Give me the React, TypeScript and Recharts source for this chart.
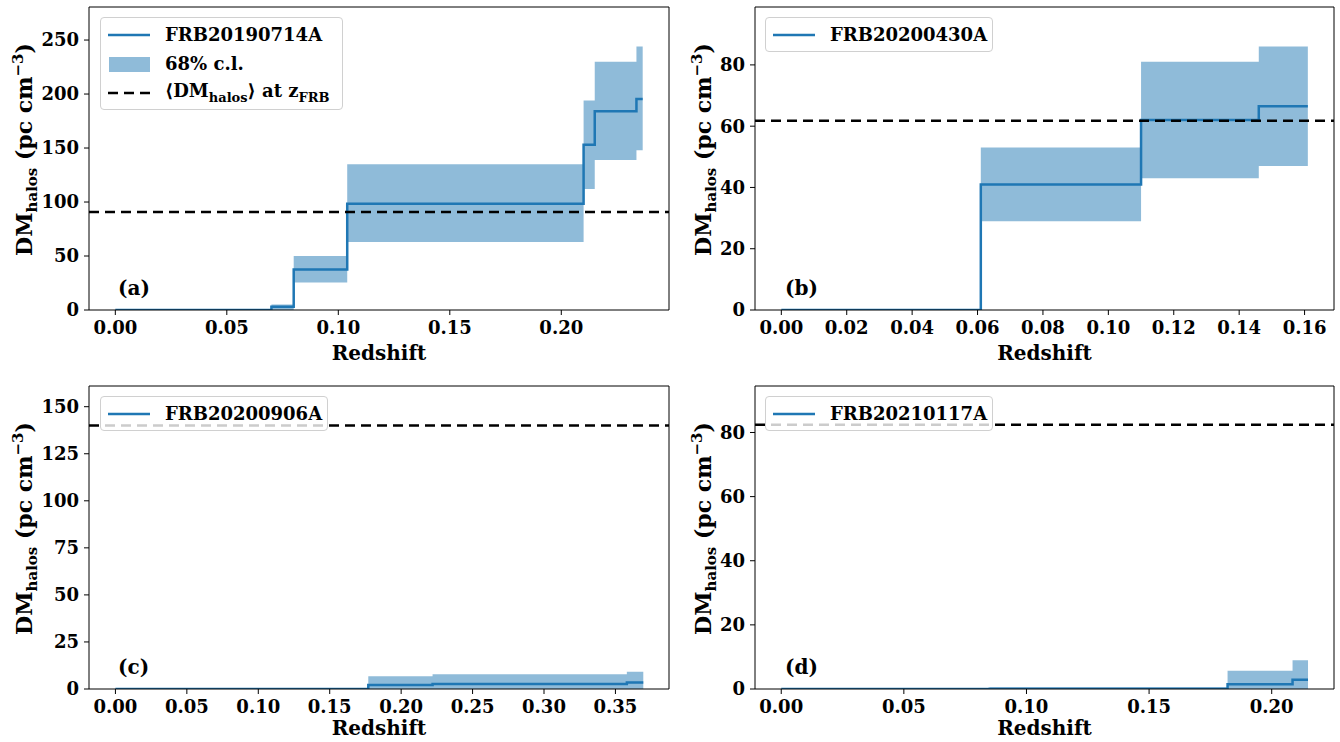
import React from 'react';
import { ComposedChart, Area, Line, XAxis, YAxis, ReferenceLine } from 'recharts';

const FONT = '"DejaVu Serif", "Liberation Serif", serif';
const BLUE = '#1f77b4';

// (a) FRB20190714A : bin edges in redshift, median and 68% band per bin
const zA = [0, 0.07, 0.08, 0.104, 0.21, 0.215, 0.2337, 0.2365];
const dmA = [0, 3, 37.5, 98.5, 153, 184, 195.5];
const loA = [0, 0, 25.5, 63, 112, 139, 148];
const hiA = [0, 5, 50, 135, 194, 230, 244];
const meanA = 90.8;
const xTicksA = [0, 0.05, 0.1, 0.15, 0.2];
const yTicksA = [0, 50, 100, 150, 200, 250];

// (b) FRB20200430A
const zB = [0, 0.061, 0.11, 0.146, 0.161];
const dmB = [0, 41, 62, 66.5];
const loB = [0, 29, 43, 47];
const hiB = [0, 53, 81, 86];
const meanB = 61.8;
const xTicksB = [0, 0.02, 0.04, 0.06, 0.08, 0.1, 0.12, 0.14, 0.16];
const yTicksB = [0, 20, 40, 60, 80];

// (c) FRB20200906A
const zC = [0, 0.177, 0.222, 0.358, 0.3695];
const dmC = [0, 2.1, 2.7, 3.4];
const loC = [0, 0, 0, 0];
const hiC = [0, 6.8, 7.8, 9.2];
const meanC = 140;
const xTicksC = [0, 0.05, 0.1, 0.15, 0.2, 0.25, 0.3, 0.35];
const yTicksC = [0, 25, 50, 75, 100, 125, 150];

// (d) FRB20210117A
const zD = [0, 0.085, 0.182, 0.2085, 0.2148];
const dmD = [0, 0.1, 1.5, 2.9];
const loD = [0, 0, 0, 0];
const hiD = [0, 0.5, 5.7, 9.0];
const meanD = 82.4;
const xTicksD = [0, 0.05, 0.1, 0.15, 0.2];
const yTicksD = [0, 20, 40, 60, 80];

const buildRows = (z: number[], dm: number[], lo: number[], hi: number[]) =>
  z.map((x, i) => {
    const j = Math.min(i, dm.length - 1);
    return { z: x, dm: dm[j], band: [lo[j], hi[j]] };
  });

const panels = [
  { key: 'a', name: 'FRB20190714A', left: 0, top: 0, yw: 89, mt: 7, mr: 1, xh: 61, labelX: 32,
    rows: buildRows(zA, dmA, loA, hiA), mean: meanA, xTicks: xTicksA, yTicks: yTicksA,
    xDomain: [-0.0118, 0.2483], yDomain: [0, 280.6], full: true,
    legend: { left: 100, top: 17, width: 243 } },
  { key: 'b', name: 'FRB20200430A', left: 670, top: 0, yw: 85, mt: 7, mr: 6, xh: 61, labelX: 41,
    rows: buildRows(zB, dmB, loB, hiB), mean: meanB, xTicks: xTicksB, yTicks: yTicksB,
    xDomain: [-0.00805, 0.169], yDomain: [0, 98.9], full: false,
    legend: { left: 95, top: 17, width: 228 } },
  { key: 'c', name: 'FRB20200906A', left: 0, top: 371, yw: 89, mt: 15, mr: 1, xh: 53, labelX: 32,
    rows: buildRows(zC, dmC, loC, hiC), mean: meanC, xTicks: xTicksC, yTicks: yTicksC,
    xDomain: [-0.0185, 0.3875], yDomain: [0, 161], full: false,
    legend: { left: 100, top: 25, width: 228 } },
  { key: 'd', name: 'FRB20210117A', left: 670, top: 371, yw: 85, mt: 15, mr: 6, xh: 53, labelX: 41,
    rows: buildRows(zD, dmD, loD, hiD), mean: meanD, xTicks: xTicksD, yTicks: yTicksD,
    xDomain: [-0.0107, 0.2254], yDomain: [0, 94.5], full: false,
    legend: { left: 95, top: 25, width: 228 } },
];

const tickStyle = { fontFamily: FONT, fontWeight: 'bold', fontSize: 18, fill: '#000' };
const textStyle: React.CSSProperties = { fontFamily: FONT, fontWeight: 'bold', color: '#000' };

const LegendRow = ({ sample, children }: any) => (
  <div style={{ display: 'flex', alignItems: 'center', height: 29 }}>
    <svg width={57} height={20} style={{ marginLeft: 7, flex: 'none' }}>{sample}</svg>
    <span style={{ ...textStyle, fontSize: 18, whiteSpace: 'nowrap' }}>{children}</span>
  </div>
);

const lineSample = <line x1={0} x2={42} y1={10} y2={10} stroke={BLUE} strokeWidth={2.5} />;
const bandSample = <rect x={1} y={3} width={41} height={15} fill={BLUE} fillOpacity={0.5} />;
const dashSample = <line x1={0} x2={42} y1={10} y2={10} stroke="#000" strokeWidth={2.5} strokeDasharray="10 6" />;

function Panel({ p }: any) {
  const plotW = 670 - p.yw - p.mr;
  const plotH = 371 - p.mt - p.xh;
  const xLabel = () => (
    <text x={p.yw + plotW / 2} y={371 - p.xh + Math.min(43, p.xh - 14)} textAnchor="middle"
      dominantBaseline="central" style={{ fontFamily: FONT, fontWeight: 'bold', fontSize: 20 }}
      fill="#000">Redshift</text>
  );
  const cy = p.mt + plotH / 2 - 9;
  const yLabel = () => (
    <text x={p.labelX} y={cy} transform={`rotate(-90, ${p.labelX}, ${cy})`} textAnchor="middle"
      style={{ fontFamily: FONT, fontWeight: 'bold', fontSize: 22 }} fill="#000">
      DM<tspan fontSize={15} dy={5}>halos</tspan>
      <tspan dy={-5}> (pc cm</tspan>
      <tspan fontSize={15} dy={-9}>−3</tspan>
      <tspan dy={9}>)</tspan>
    </text>
  );
  return (
    <div style={{ position: 'absolute', left: p.left, top: p.top, width: 670, height: 371 }}>
      <ComposedChart width={670} height={371} data={p.rows}
        margin={{ top: p.mt, right: p.mr, bottom: 0, left: 0 }}>
        <XAxis dataKey="z" type="number" domain={p.xDomain} ticks={p.xTicks} allowDataOverflow
          tickFormatter={(v: number) => v.toFixed(2)} height={p.xh} tickSize={5} tickMargin={6}
          tick={tickStyle} stroke="#000" tickLine={{ stroke: '#000' }} interval={0}
          label={{ content: xLabel }} />
        <YAxis type="number" domain={p.yDomain} ticks={p.yTicks} allowDataOverflow width={p.yw}
          tickSize={5} tickMargin={5} tick={tickStyle} stroke="#000" tickLine={{ stroke: '#000' }}
          interval={0} label={{ content: yLabel }} />
        <Area dataKey="band" type="stepAfter" fill={BLUE} fillOpacity={0.5} stroke="none"
          isAnimationActive={false} />
        <Line dataKey="dm" type="stepAfter" stroke={BLUE} strokeWidth={2.5} dot={false}
          isAnimationActive={false} />
        <ReferenceLine y={p.mean} stroke="#000" strokeWidth={2.5} strokeDasharray="10 6" />
        {/* top and right spines */}
        <ReferenceLine y={p.yDomain[1]} stroke="#000" strokeWidth={1} />
        <ReferenceLine x={p.xDomain[1]} stroke="#000" strokeWidth={1} />
      </ComposedChart>
      <div style={{
        position: 'absolute', left: p.legend.left, top: p.legend.top, width: p.legend.width,
        boxSizing: 'border-box', padding: '2px 0', background: 'rgba(255,255,255,0.8)',
        border: '1px solid #d0d0d0', borderRadius: 4,
      }}>
        <LegendRow sample={lineSample}>{p.name}</LegendRow>
        {p.full && <LegendRow sample={bandSample}>68% c.l.</LegendRow>}
        {p.full && (
          <LegendRow sample={dashSample}>
            ⟨DM<sub style={{ fontSize: 13 }}>halos</sub>⟩ at z<sub style={{ fontSize: 13 }}>FRB</sub>
          </LegendRow>
        )}
      </div>
      <div style={{ ...textStyle, position: 'absolute', fontSize: 20, left: p.key === 'a' || p.key === 'c' ? 118 : 115,
        top: 371 - p.xh - 34 }}>({p.key})</div>
    </div>
  );
}

export default function App() {
  return (
    <div style={{ position: 'absolute', left: 0, top: 0, width: 1340, height: 742, background: '#fff' }}>
      {panels.map((p) => <Panel key={p.key} p={p} />)}
    </div>
  );
}
